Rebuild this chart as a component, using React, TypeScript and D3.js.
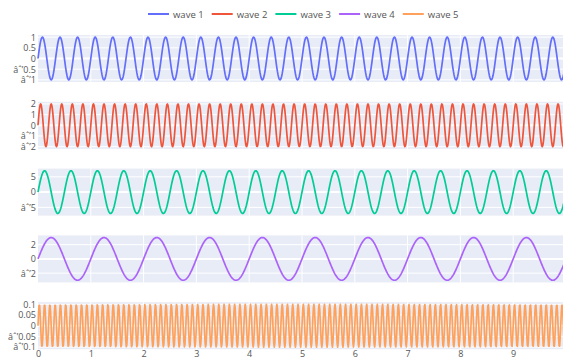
import React, { useEffect, useRef } from "react";
import * as d3 from "d3";

// Series: amplitude and cycles per x unit
const waveNames = ["wave 1", "wave 2", "wave 3", "wave 4", "wave 5"];
const waveAmplitudes = [1, 2, 7, 3, 0.1];
const waveCycles = [3, 5, 2, 1, 10];
const waveColors = ["#636efa", "#EF553B", "#00cc96", "#ab63fa", "#FFA15A"];

const xDomain = [0, 10];
const sampleCount = 1000;
const xTicks = [0, 1, 2, 3, 4, 5, 6, 7, 8, 9];

const yTicks = [
  [1, 0.5, 0, -0.5, -1],
  [2, 1, 0, -1, -2],
  [5, 0, -5],
  [2, 0, -2],
  [0.1, 0.05, 0, -0.05, -0.1],
];

// the original labels came out mis-encoded, keep them that way
const fmt = (v: number) => (v < 0 ? "âˆ’" + String(-v) : String(v));

const App = () => {
  const svgRef = useRef<SVGSVGElement>(null);

  useEffect(() => {
    document.body.style.margin = "0";

    const width = 563;
    const height = 359;
    const marginLeft = 38;
    const plotRight = 566;
    const rowTop = 35;
    const rowHeight = 47;
    const rowPitch = 66.8;
    const font = "'Open Sans', verdana, arial, sans-serif";

    const svg = d3.select(svgRef.current)
      .attr("width", width)
      .attr("height", height)
      .style("display", "block")
      .style("font-family", font);

    svg.selectAll("*").remove();

    const x = d3.scaleLinear().domain(xDomain).range([marginLeft, plotRight]);

    const xs = d3.range(sampleCount).map(i => xDomain[0] + (i * (xDomain[1] - xDomain[0])) / (sampleCount - 1));

    waveNames.forEach((name, i) => {
      const amp = waveAmplitudes[i];
      const top = rowTop + i * rowPitch;
      const pad = amp * 2 * 0.05;
      const y = d3.scaleLinear().domain([-amp - pad, amp + pad]).range([top + rowHeight, top]);

      const g = svg.append("g");

      g.append("rect")
        .attr("x", marginLeft)
        .attr("y", top)
        .attr("width", plotRight - marginLeft)
        .attr("height", rowHeight)
        .attr("fill", "#E8ECF6");

      // vertical grid
      g.selectAll("line.vgrid")
        .data(d3.range(1, 11))
        .join("line")
        .attr("class", "vgrid")
        .attr("x1", d => x(d)).attr("x2", d => x(d))
        .attr("y1", top).attr("y2", top + rowHeight)
        .attr("stroke", "#fff").attr("stroke-width", 1);

      // horizontal grid
      g.selectAll("line.hgrid")
        .data(yTicks[i])
        .join("line")
        .attr("class", "hgrid")
        .attr("x1", marginLeft).attr("x2", plotRight)
        .attr("y1", d => y(d)).attr("y2", d => y(d))
        .attr("stroke", "#fff")
        .attr("stroke-width", d => (d === 0 ? 2 : 1));

      const pts: [number, number][] = xs.map(v => [v, amp * Math.sin(2 * Math.PI * waveCycles[i] * v)]);

      g.append("path")
        .datum(pts)
        .attr("fill", "none")
        .attr("stroke", waveColors[i])
        .attr("stroke-width", 1.7)
        .attr("stroke-linejoin", "round")
        .attr("d", d3.line<[number, number]>().x(d => x(d[0])).y(d => y(d[1])));

      const axis = svg.append("g")
        .attr("transform", `translate(${marginLeft - 2},0)`)
        .call(d3.axisLeft(y).tickValues(yTicks[i]).tickSize(0).tickPadding(0).tickFormat(d => fmt(+d)));
      axis.select(".domain").remove();
      axis.selectAll("text")
        .attr("fill", "#555")
        .style("font-size", "9px")
        .style("font-family", font);
    });

    const bottom = rowTop + 4 * rowPitch + rowHeight;
    const xAxis = svg.append("g")
      .attr("transform", `translate(0,${bottom})`)
      .call(d3.axisBottom(x).tickValues(xTicks).tickSize(0).tickPadding(1).tickFormat(d => String(d)));
    xAxis.select(".domain").remove();
    xAxis.selectAll("text")
      .attr("fill", "#555")
      .style("font-size", "9px")
      .style("font-family", font);

    // legend
    const legend = svg.append("g").attr("transform", "translate(148,14)");
    const item = legend.selectAll("g")
      .data(waveNames)
      .join("g")
      .attr("transform", (_, i) => `translate(${i * 63.7},0)`);
    item.append("line")
      .attr("x1", 0).attr("x2", 21)
      .attr("y1", 0).attr("y2", 0)
      .attr("stroke", (_, i) => waveColors[i])
      .attr("stroke-width", 2);
    item.append("text")
      .attr("x", 25)
      .attr("y", 3.5)
      .attr("fill", "#555")
      .style("font-size", "9.5px")
      .text(d => d);
  }, []);

  return <svg ref={svgRef}></svg>;
};

export default App;
